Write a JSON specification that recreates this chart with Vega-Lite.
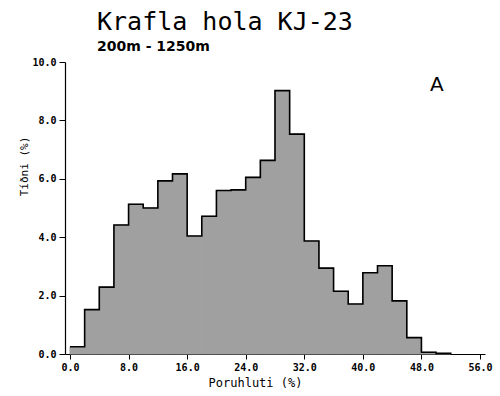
{
  "$schema": "https://vega.github.io/schema/vega-lite/v6.json",
  "autosize": {"type": "none"},
  "width": 420,
  "height": 292,
  "padding": {"left": 65, "top": 62, "right": 15, "bottom": 42},
  "background": "white",
  "config": {"view": {"stroke": null}},
  "title": {
    "text": "Krafla hola KJ-23",
    "subtitle": "200m - 1250m",
    "anchor": "start",
    "frame": "group",
    "dx": 32,
    "offset": 3,
    "font": "DejaVu Sans Mono",
    "fontSize": 25,
    "fontWeight": "normal",
    "color": "black",
    "subtitleFont": "DejaVu Sans",
    "subtitleFontSize": 14,
    "subtitleFontWeight": "bold",
    "subtitleColor": "black",
    "subtitlePadding": 5
  },
  "datasets": {
    "bins": [
      {"start": 0, "end": 2, "pct": 0.25},
      {"start": 2, "end": 4, "pct": 1.52},
      {"start": 4, "end": 6, "pct": 2.29},
      {"start": 6, "end": 8, "pct": 4.42},
      {"start": 8, "end": 10, "pct": 5.13},
      {"start": 10, "end": 12, "pct": 5.0},
      {"start": 12, "end": 14, "pct": 5.93},
      {"start": 14, "end": 16, "pct": 6.17},
      {"start": 16, "end": 18, "pct": 4.04},
      {"start": 18, "end": 20, "pct": 4.72},
      {"start": 20, "end": 22, "pct": 5.6},
      {"start": 22, "end": 24, "pct": 5.62},
      {"start": 24, "end": 26, "pct": 6.05},
      {"start": 26, "end": 28, "pct": 6.63},
      {"start": 28, "end": 30, "pct": 9.02},
      {"start": 30, "end": 32, "pct": 7.53},
      {"start": 32, "end": 34, "pct": 3.87},
      {"start": 34, "end": 36, "pct": 2.94},
      {"start": 36, "end": 38, "pct": 2.15},
      {"start": 38, "end": 40, "pct": 1.71},
      {"start": 40, "end": 42, "pct": 2.78},
      {"start": 42, "end": 44, "pct": 3.02},
      {"start": 44, "end": 46, "pct": 1.82},
      {"start": 46, "end": 48, "pct": 0.56},
      {"start": 48, "end": 50, "pct": 0.06},
      {"start": 50, "end": 52, "pct": 0.02}
    ],
    "outline": [
      {"x": 0, "y": 0.25}, {"x": 2, "y": 1.52}, {"x": 4, "y": 2.29},
      {"x": 6, "y": 4.42}, {"x": 8, "y": 5.13}, {"x": 10, "y": 5.0},
      {"x": 12, "y": 5.93}, {"x": 14, "y": 6.17}, {"x": 16, "y": 4.04},
      {"x": 18, "y": 4.72}, {"x": 20, "y": 5.6}, {"x": 22, "y": 5.62},
      {"x": 24, "y": 6.05}, {"x": 26, "y": 6.63}, {"x": 28, "y": 9.02},
      {"x": 30, "y": 7.53}, {"x": 32, "y": 3.87}, {"x": 34, "y": 2.94},
      {"x": 36, "y": 2.15}, {"x": 38, "y": 1.71}, {"x": 40, "y": 2.78},
      {"x": 42, "y": 3.02}, {"x": 44, "y": 1.82}, {"x": 46, "y": 0.56},
      {"x": 48, "y": 0.06}, {"x": 50, "y": 0.02}, {"x": 52, "y": 0}
    ]
  },
  "layer": [
    {
      "data": {"name": "bins"},
      "mark": {"type": "bar", "color": "#a0a0a0", "stroke": "#a0a0a0", "strokeWidth": 1, "orient": "vertical"},
      "encoding": {
        "x": {
          "field": "start", "type": "quantitative",
          "scale": {"domain": [0, 56], "nice": false},
          "axis": {
            "title": "Poruhluti (%)",
            "values": [0, 4, 8, 12, 16, 20, 24, 28, 32, 36, 40, 44, 48, 52, 56],
            "labelExpr": "datum.value % 8 === 0 ? format(datum.value, '.1f') : ''",
            "grid": false,
            "domainColor": "black",
            "domainWidth": 1.2,
            "tickColor": "black",
            "tickSize": 5,
            "labelFont": "DejaVu Sans Mono",
            "labelFontSize": 10,
            "labelFontWeight": "bold",
            "labelColor": "black",
            "labelPadding": 3,
            "titleFont": "DejaVu Sans Mono",
            "titleFontSize": 12,
            "titleFontWeight": "normal",
            "titleColor": "black",
            "titlePadding": 5,
            "titleX": 190,
            "titleAlign": "center"
          }
        },
        "x2": {"field": "end"},
        "y": {
          "field": "pct", "type": "quantitative",
          "scale": {"domain": [0, 10], "nice": false},
          "axis": {
            "title": "Tíðni (%)",
            "values": [0, 1, 2, 3, 4, 5, 6, 7, 8, 9, 10],
            "labelExpr": "datum.value % 2 === 0 ? format(datum.value, '.1f') : ''",
            "grid": false,
            "domainColor": "black",
            "domainWidth": 1.2,
            "tickColor": "black",
            "tickSize": 6,
            "labelFont": "DejaVu Sans Mono",
            "labelFontSize": 10,
            "labelFontWeight": "bold",
            "labelColor": "black",
            "labelPadding": 3,
            "titleFont": "DejaVu Sans Mono",
            "titleFontSize": 11,
            "titleFontWeight": "normal",
            "titleColor": "black",
            "titleY": 104,
            "titlePadding": 2
          }
        },
        "y2": {"datum": 0}
      }
    },
    {
      "data": {"name": "outline"},
      "mark": {"type": "line", "interpolate": "step-after", "color": "black", "strokeWidth": 1.6},
      "encoding": {
        "x": {"field": "x", "type": "quantitative"},
        "y": {"field": "y", "type": "quantitative"}
      }
    },
    {
      "data": {"values": [{"label": "A", "lx": 50.1, "ly": 9.2}]},
      "mark": {"type": "text", "font": "DejaVu Sans", "fontSize": 20, "color": "black", "align": "center", "baseline": "middle"},
      "encoding": {
        "x": {"field": "lx", "type": "quantitative"},
        "y": {"field": "ly", "type": "quantitative"},
        "text": {"field": "label"}
      }
    }
  ]
}
